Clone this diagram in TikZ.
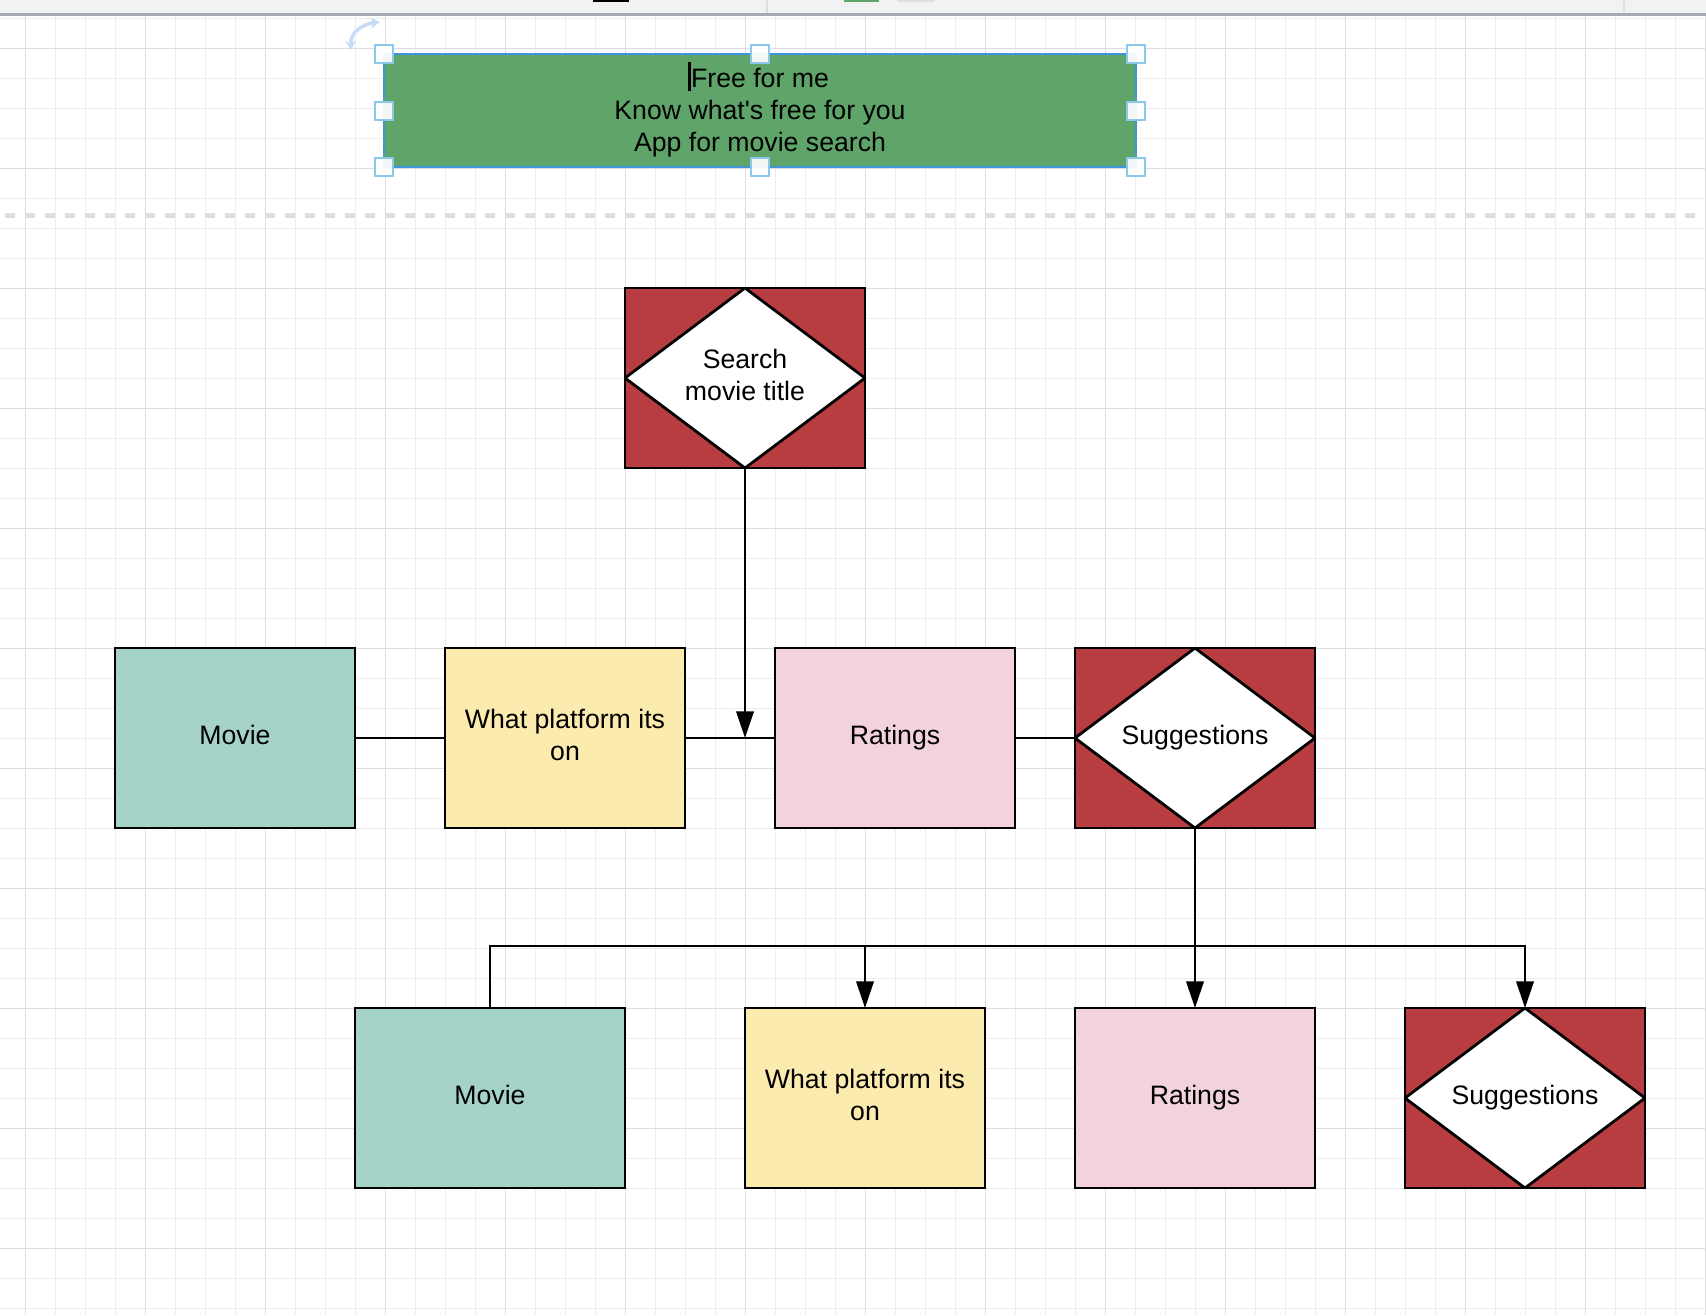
\documentclass[tikz,border=0pt]{standalone}
\usepackage{fontspec}
\setmainfont{Liberation Sans}[Ligatures=TeXOff]
\usetikzlibrary{arrows.meta}
\definecolor{cteal}{RGB}{166,211,200}
\definecolor{cyel}{RGB}{252,235,174}
\definecolor{cpink}{RGB}{242,210,220}
\definecolor{cred}{RGB}{184,61,64}
\definecolor{cgreen}{RGB}{95,165,105}
\definecolor{cborder}{RGB}{61,150,220}
\definecolor{hblue}{RGB}{140,200,238}
\definecolor{rotblue}{RGB}{200,220,245}
\definecolor{gminor}{RGB}{237,237,237}
\definecolor{gmajor}{RGB}{222,222,222}
\definecolor{tbgray}{RGB}{241,242,244}
\definecolor{tbline}{RGB}{168,170,178}
\definecolor{dashc}{RGB}{222,222,222}
\begin{document}
\begin{tikzpicture}[x=0.75pt,y=-0.75pt,
  txt/.style={font=\fontsize{20pt}{24pt}\selectfont, align=center},
  box/.style={txt, draw=black, line width=2.1pt, minimum width=180pt, minimum height=135pt, outer sep=0pt, inner sep=0pt},
  moviebox/.style={box, fill=cteal},
  platbox/.style={box, fill=cyel},
  ratbox/.style={box, fill=cpink},
  suggbox/.style={box, fill=cred, path picture={\draw[line width=2.1pt, fill=white] (path picture bounding box.north) -- (path picture bounding box.east) -- (path picture bounding box.south) -- (path picture bounding box.west) -- cycle;}},
  conn/.style={line width=2.1pt},
  arr/.style={conn, -{Triangle[length=20pt,width=13pt]}},
  handle/.style={draw=hblue, fill=white, fill opacity=0.92, line width=1.5pt, minimum size=13.5pt, inner sep=0pt, outer sep=0pt}
]
\useasboundingbox (0,0) rectangle (1706,1315);
\fill[white] (0,0) rectangle (1706,1315);
% grid
\foreach \i in {0,...,56} \draw[gminor, line width=0.75pt] (25.7+30*\i,15.5) -- (25.7+30*\i,1315);
\foreach \j in {0,...,43} \draw[gminor, line width=0.75pt] (0,18.3+30*\j) -- (1706,18.3+30*\j);
\foreach \i in {0,...,14} \draw[gmajor, line width=0.75pt] (25.7+120*\i,15.5) -- (25.7+120*\i,1315);
\foreach \j in {0,...,10} \draw[gmajor, line width=0.75pt] (0,48.3+120*\j) -- (1706,48.3+120*\j);
% toolbar
\fill[tbgray] (0,0) rectangle (1706,13);
\fill[tbline] (0,13) rectangle (1706,15.5);
\fill[gmajor] (766,0) rectangle (768,13);
\fill[gmajor] (1623,0) rectangle (1625,13);
\fill[black] (593,0) rectangle (629,2);
\fill[cgreen] (844,0) rectangle (879,2);
\fill[gmajor] (897,0) rectangle (935,2);
% dashed separator
\draw[dashc, line width=3.5pt, dash pattern=on 7.5pt off 7.5pt] (5,215.7) -- (1706,215.7);
% title
\node[draw=cborder, fill=cgreen, line width=1.2pt, minimum width=564pt, minimum height=84.75pt, outer sep=0pt, inner sep=0pt] (title) at (760,110.5) {};
\node[txt, inner sep=0pt] (titletext) at ([yshift=-2pt]title.center) {\strut Free for me\\\strut Know what's free for you\\\strut App for movie search};
\fill[black] (688,62) rectangle (691,91);
\foreach \a [count=\k] in {north west,north,north east,west,east,south west,south,south east}
  \node[handle] (h\k) at (title.\a) {};
\draw[rotblue, line width=2.6pt, {Stealth[length=7pt,width=8pt]}-{Stealth[length=7pt,width=8pt]}] (351,50) .. controls (350,33) and (362,24) .. (380,22);
% middle row
\node[suggbox] (search) at (745,378) {\strut Search\\\strut movie title};
\node[moviebox] (movieA) at (235,738) {\strut Movie};
\node[platbox] (platA) at (565,738) {\strut What platform its\\\strut on};
\node[ratbox] (ratA) at (895,738) {\strut Ratings};
\node[suggbox] (suggA) at (1195,738) {\strut Suggestions};
% bottom row
\node[moviebox, minimum width=202.5pt] (movieB) at (490,1098) {\strut Movie};
\node[platbox] (platB) at (865,1098) {\strut What platform its\\\strut on};
\node[ratbox] (ratB) at (1195,1098) {\strut Ratings};
\node[suggbox] (suggB) at (1525,1098) {\strut Suggestions};
% connectors
\draw[conn] (movieA.east) -- (platA.west);
\draw[conn] (platA.east) -- (ratA.west);
\draw[conn] (ratA.east) -- (suggA.west);
\draw[arr] (search.south) -- (search.south |- ratA.west);
\coordinate (branch) at (1195,946);
\draw[arr] (suggA.south) -- (ratB.north);
\draw[arr] (movieB.north) |- (branch) -| (suggB.north);
\draw[arr] (platB.north |- branch) -- (platB.north);
\end{tikzpicture}
\end{document}
